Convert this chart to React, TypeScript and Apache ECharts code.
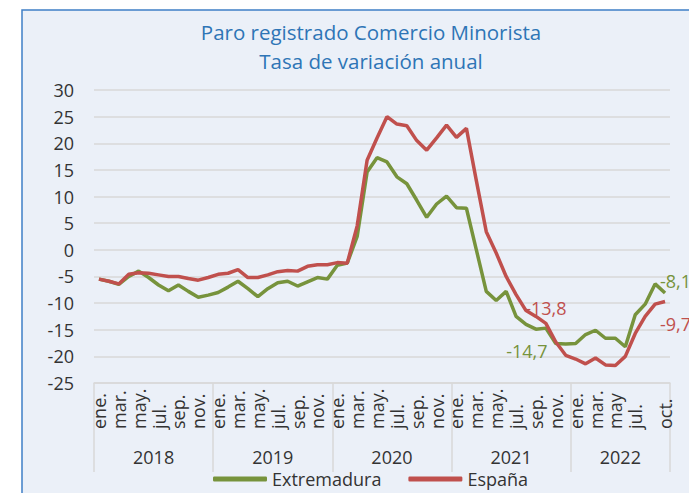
import React, { useEffect, useRef } from "react";
import * as echarts from "echarts";

// ---- data ----
const years = ["2018", "2019", "2020", "2021", "2022"];
const monthsPerYear = [12, 12, 12, 12, 10];

const monthTickLabels = [
  "ene.", "", "mar.", "", "may.", "", "jul.", "", "sep.", "", "nov.", "",
  "ene.", "", "mar.", "", "may.", "", "jul.", "", "sep.", "", "nov.", "",
  "ene.", "", "mar.", "", "may.", "", "jul.", "", "sep.", "", "nov.", "",
  "ene.", "", "mar.", "", "may.", "", "jul.", "", "sep.", "", "nov.", "",
  "ene.", "", "mar.", "", "may", "", "jul.", "", "", "oct.",
];

const extremadura = [
  -5.5, -5.9, -6.5, -5.0, -4.0, -5.2, -6.6, -7.7, -6.6, -7.8, -8.9, -8.5,
  -8.0, -7.0, -5.9, -7.3, -8.8, -7.3, -6.2, -5.9, -6.8, -6.0, -5.2, -5.5,
  -2.9, -2.5, 2.5, 14.6, 17.3, 16.5, 13.7, 12.4, 9.3, 6.1, 8.6, 10.1,
  7.9, 7.8, 0.0, -7.8, -9.5, -7.8, -12.5, -14.0, -14.9, -14.7, -17.6, -17.7,
  -17.6, -15.9, -15.1, -16.6, -16.6, -18.2, -12.2, -10.2, -6.4, -8.1,
];

const espana = [
  -5.5, -5.9, -6.4, -4.6, -4.3, -4.4, -4.7, -5.0, -5.0, -5.4, -5.7, -5.2,
  -4.6, -4.4, -3.7, -5.2, -5.2, -4.7, -4.1, -3.9, -4.0, -3.1, -2.8, -2.8,
  -2.4, -2.5, 4.5, 16.8, 21.0, 25.0, 23.6, 23.3, 20.5, 18.7, 21.0, 23.4,
  21.1, 22.8, 13.0, 3.4, -0.6, -5.0, -8.4, -11.4, -12.5, -13.8, -17.3, -19.8,
  -20.5, -21.4, -20.3, -21.6, -21.7, -20.0, -15.7, -12.5, -10.2, -9.7,
];

// indices of the labelled points (oct. 2021 and oct. 2022)
const labelledIdx = [45, 57];

const yMin = -25;
const yMax = 30;
const yStep = 5;

// ---- derived ----
const categories: string[] = [];
years.forEach((y, yi) => {
  for (let m = 0; m < monthsPerYear[yi]; m++) categories.push(`${y}-${m + 1}`);
});

// half-month positions for the year band axis
const totalHalf = categories.length * 2;
const yearAxisCats: string[] = [];
for (let j = 0; j <= totalHalf; j++) yearAxisCats.push(String(j));
const yearBoundaries: number[] = [0];
const yearCenters: number[] = [];
{
  let acc = 0;
  monthsPerYear.forEach((n) => {
    yearCenters.push(acc * 2 + n);
    acc += n;
    yearBoundaries.push(acc * 2);
  });
}

const GREEN = "#77933C";
const RED = "#C0504D";
const FONT = "Open Sans";

const fmt = (v: number) => String(v).replace(".", ",");

const labelCfg: Record<string, Record<number, any>> = {
  Extremadura: {
    45: { position: "bottom", distance: 14, offset: [-19, 0] },
    57: { position: "right", distance: 0, offset: [-5, -12] },
  },
  España: {
    45: { position: "top", distance: 6, offset: [0, 0] },
    57: { position: "right", distance: 0, offset: [-5, 23] },
  },
};

function buildData(name: string, values: number[], color: string) {
  return values.map((v, i) => {
    if (labelledIdx.includes(i)) {
      const c = labelCfg[name][i];
      return {
        value: v,
        label: {
          show: true,
          formatter: () => fmt(v),
          color,
          fontSize: 18,
          fontFamily: FONT,
          ...c,
        },
      };
    }
    return v;
  });
}

export default function App() {
  const ref = useRef<HTMLDivElement>(null);

  useEffect(() => {
    if (!ref.current) return;
    const chart = echarts.init(ref.current, undefined, { renderer: "svg" });
    const option: any = {
      animation: false,
      backgroundColor: "#ffffff",
      textStyle: { fontFamily: FONT },
      graphic: [
        {
          type: "rect",
          z: -10,
          silent: true,
          shape: { x: 22, y: 10, width: 720, height: 520 },
          style: { fill: "#EBF0F8", stroke: "#3F7FC6", lineWidth: 1.5 },
        },
      ],
      title: {
        text: "Paro registrado Comercio Minorista\nTasa de variación anual",
        left: 366,
        top: 12,
        textAlign: "center",
        textStyle: {
          color: "#2E75B6",
          fontSize: 20.5,
          fontWeight: "normal",
          lineHeight: 29,
          fontFamily: FONT,
        },
      },
      grid: { left: 94, right: 19, top: 90, bottom: 110 },
      legend: {
        left: 208,
        top: 465,
        icon: "roundRect",
        itemWidth: 54,
        itemHeight: 5,
        itemGap: 27,
        textStyle: { fontSize: 18, color: "#333333", fontFamily: FONT },
        data: ["Extremadura", "España"],
      },
      xAxis: [
        {
          type: "category",
          data: categories,
          boundaryGap: true,
          position: "bottom",
          axisLine: { show: true, onZero: false, lineStyle: { color: "#D9D9D9", width: 1.5 } },
          axisTick: { show: false },
          splitLine: { show: false },
          axisLabel: {
            interval: 0,
            rotate: 90,
            align: "left",
            verticalAlign: "middle",
            margin: 46,
            fontSize: 18,
            color: "#333333",
            fontFamily: FONT,
            formatter: (_v: string, i: number) => monthTickLabels[i],
          },
        },
        {
          type: "category",
          data: yearAxisCats,
          boundaryGap: false,
          position: "bottom",
          axisLine: { show: false, onZero: false },
          axisTick: {
            show: true,
            interval: (i: number) => yearBoundaries.includes(i),
            length: 89,
            lineStyle: { color: "#D9D9D9", width: 1.5 },
          },
          splitLine: { show: false },
          axisLabel: {
            interval: (i: number) => yearCenters.includes(i),
            margin: 65,
            fontSize: 18,
            color: "#333333",
            fontFamily: FONT,
            formatter: (_v: string, i: number) => {
              const k = yearCenters.indexOf(i);
              return k >= 0 ? years[k] : "";
            },
          },
        },
      ],
      yAxis: {
        type: "value",
        min: yMin,
        max: yMax,
        interval: yStep,
        axisLine: { show: false },
        axisTick: { show: false },
        axisLabel: { fontSize: 18, color: "#333333", margin: 20, fontFamily: FONT },
        splitLine: { lineStyle: { color: "#D9D9D9", width: 1.5 } },
      },
      series: [
        {
          name: "Extremadura",
          type: "line",
          xAxisIndex: 0,
          data: buildData("Extremadura", extremadura, GREEN),
          symbol: "circle",
          symbolSize: 0,
          showSymbol: true,
          showAllSymbol: true,
          lineStyle: { width: 3.5, color: GREEN },
          itemStyle: { color: GREEN },
          z: 3,
        },
        {
          name: "España",
          type: "line",
          xAxisIndex: 0,
          data: buildData("España", espana, RED),
          symbol: "circle",
          symbolSize: 0,
          showSymbol: true,
          showAllSymbol: true,
          lineStyle: { width: 3.5, color: RED },
          itemStyle: { color: RED },
          z: 4,
        },
      ],
    };
    chart.setOption(option);
    return () => chart.dispose();
  }, []);

  return (
    <div
      ref={ref}
      style={{ position: "fixed", left: 0, top: 0, width: 689, height: 493 }}
    />
  );
}
